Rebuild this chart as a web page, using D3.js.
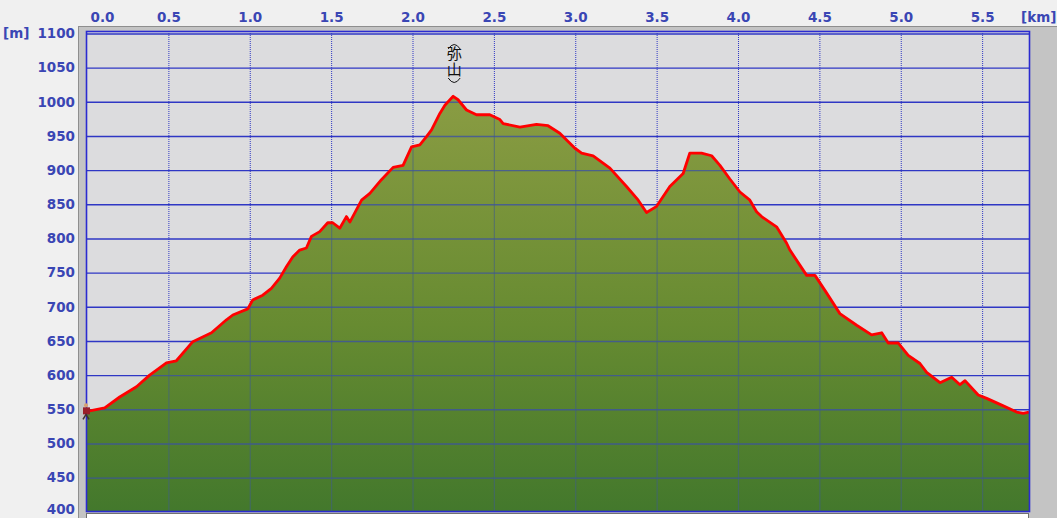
<!DOCTYPE html>
<html>
<head>
<meta charset="utf-8">
<script src="https://cdn.jsdelivr.net/npm/d3@7"></script>
<style>
  body { margin: 0; background: #f0f0f0; }
  svg { display: block; }
</style>
</head>
<body>
<div id="chart-area"></div>
<script>
// profile: distance [km] / elevation [m]
const distKm = [0, 0.109, 0.201, 0.304, 0.385, 0.488, 0.549, 0.650, 0.765, 0.857, 0.896, 0.988,
  1.018, 1.080, 1.133, 1.184, 1.226, 1.264, 1.307, 1.348, 1.379, 1.430, 1.479, 1.510, 1.553,
  1.594, 1.615, 1.687, 1.738, 1.809, 1.881, 1.942, 1.994, 2.045, 2.086, 2.117, 2.168, 2.199,
  2.250, 2.280, 2.332, 2.393, 2.475, 2.537, 2.557, 2.660, 2.762, 2.833, 2.905, 2.998, 3.039,
  3.110, 3.213, 3.315, 3.387, 3.438, 3.500, 3.581, 3.663, 3.704, 3.776, 3.838, 3.889, 3.950,
  4.012, 4.073, 4.114, 4.145, 4.237, 4.299, 4.319, 4.380, 4.422, 4.473, 4.545, 4.626, 4.729,
  4.821, 4.883, 4.923, 4.985, 5.046, 5.118, 5.159, 5.241, 5.313, 5.364, 5.395, 5.476, 5.528,
  5.630, 5.712, 5.753, 5.788];
const elevM = [547, 552, 568, 583, 600, 618, 621, 649, 662, 681, 688, 697,
  710, 717, 727, 742, 759, 773, 783, 786, 803, 810, 823, 823, 815,
  832, 824, 856, 866, 886, 904, 907, 934, 937, 949, 959, 983, 995,
  1008, 1003, 988, 981, 981, 974, 968, 963, 967, 965, 954, 932, 925,
  921, 903, 876, 856, 838, 847, 876, 895, 925, 925, 921, 907, 887,
  868, 856, 839, 832, 817, 793, 783, 761, 746, 746, 720, 690, 673,
  659, 662, 647, 647, 629, 617, 604, 589, 597, 586, 592, 571, 566,
  555, 546, 544, 546];

const xTicks = [0, 0.5, 1, 1.5, 2, 2.5, 3, 3.5, 4, 4.5, 5, 5.5];
const yTicks = [400, 450, 500, 550, 600, 650, 700, 750, 800, 850, 900, 950, 1000, 1050, 1100];
const peakName = "弥山";
const peakKm = 2.25;

const width = 1057, height = 518;
const plot = { left: 87, top: 32, right: 1029, bottom: 512 };
const labelColor = "#3a46b4";
const gridColor = "#2f37c4";

const x = d3.scaleLinear()
  .domain([0, 5.788])
  .range([plot.left, plot.right]);

const y = d3.scaleLinear()
  .domain([400, 1100])
  .range([511.8, 33.45]);

const svg = d3.select("#chart-area")
  .append("svg")
    .attr("width", width)
    .attr("height", height)
    .style("font-family", "'DejaVu Sans', Verdana, sans-serif");

const defs = svg.append("defs");

const grad = defs.append("linearGradient")
  .attr("id", "fillGrad")
  .attr("gradientUnits", "userSpaceOnUse")
  .attr("x1", 0).attr("x2", 0)
  .attr("y1", y(1010)).attr("y2", y(400));
grad.append("stop").attr("offset", 0).attr("stop-color", "#8a9c43");
grad.append("stop").attr("offset", 0.55).attr("stop-color", "#678b31");
grad.append("stop").attr("offset", 1).attr("stop-color", "#43782c");

const area = d3.area()
  .x((d, i) => x(distKm[i]))
  .y0(y(400))
  .y1(d => y(d));

const line = d3.line()
  .x((d, i) => x(distKm[i]))
  .y(d => y(d));

defs.append("clipPath")
  .attr("id", "plotClip")
  .append("rect")
  .attr("x", plot.left)
  .attr("y", plot.top)
  .attr("width", plot.right - plot.left)
  .attr("height", plot.bottom - plot.top);

defs.append("clipPath")
  .attr("id", "areaClip")
  .append("path")
  .attr("d", area(elevM));

// grey frame round the plot
svg.append("rect")
  .attr("x", 78).attr("y", 26)
  .attr("width", width - 78).attr("height", height - 26)
  .attr("fill", "#c4c4c4");
svg.append("line")
  .attr("x1", 78.5).attr("x2", 78.5).attr("y1", 26).attr("y2", height)
  .attr("stroke", "#8e8e8e");
svg.append("line")
  .attr("x1", 78).attr("x2", width).attr("y1", 26.5).attr("y2", 26.5)
  .attr("stroke", "#8e8e8e");

svg.append("rect")
  .attr("x", plot.left).attr("y", plot.top)
  .attr("width", plot.right - plot.left).attr("height", plot.bottom - plot.top)
  .attr("fill", "#dcdcde");

// grid on the empty part
const grid = svg.append("g").attr("clip-path", "url(#plotClip)");

grid.append("g")
  .attr("transform", "translate(" + plot.left + ",0)")
  .call(d3.axisLeft(y).tickValues(yTicks).tickSize(-(plot.right - plot.left)).tickFormat(""))
  .call(g => g.select(".domain").remove())
  .selectAll("line")
  .attr("stroke", gridColor)
  .attr("stroke-width", 1.4);

grid.append("g")
  .attr("transform", "translate(0," + plot.bottom + ")")
  .call(d3.axisBottom(x).tickValues(xTicks.slice(1)).tickSize(-(plot.bottom - plot.top)).tickFormat(""))
  .call(g => g.select(".domain").remove())
  .selectAll("line")
  .attr("stroke", gridColor)
  .attr("stroke-width", 1)
  .style("stroke-dasharray", ("1, 1"));

// profile fill
svg.append("path")
  .attr("clip-path", "url(#plotClip)")
  .attr("d", area(elevM))
  .attr("fill", "url(#fillGrad)");

// grid showing through the fill
const gridIn = svg.append("g").attr("clip-path", "url(#areaClip)");

gridIn.append("g")
  .attr("transform", "translate(" + plot.left + ",0)")
  .call(d3.axisLeft(y).tickValues(yTicks).tickSize(-(plot.right - plot.left)).tickFormat(""))
  .call(g => g.select(".domain").remove())
  .selectAll("line")
  .attr("stroke", "#3a4fa8")
  .attr("stroke-opacity", 0.75)
  .attr("stroke-width", 1.4);

gridIn.append("g")
  .attr("transform", "translate(0," + plot.bottom + ")")
  .call(d3.axisBottom(x).tickValues(xTicks.slice(1)).tickSize(-(plot.bottom - plot.top)).tickFormat(""))
  .call(g => g.select(".domain").remove())
  .selectAll("line")
  .attr("stroke", "#3f5d8a")
  .attr("stroke-opacity", 0.55)
  .attr("stroke-width", 1.2);

// profile line
svg.append("path")
  .attr("clip-path", "url(#plotClip)")
  .attr("d", line(elevM))
  .attr("fill", "none")
  .attr("stroke", "#ff0000")
  .attr("stroke-width", 2.8)
  .attr("stroke-linejoin", "round");

// blue border of the plot
svg.append("rect")
  .attr("x", plot.left - 0.5).attr("y", plot.top - 0.5)
  .attr("width", plot.right - plot.left + 1).attr("height", plot.bottom - plot.top)
  .attr("fill", "none")
  .attr("stroke", "#2b2bd0")
  .attr("stroke-width", 1.6);

// white strip at the bottom
svg.append("rect")
  .attr("x", plot.left - 0.5).attr("y", plot.bottom + 1.5)
  .attr("width", plot.right - plot.left).attr("height", 10)
  .attr("fill", "#ffffff")
  .attr("stroke", "#707070");

// start marker
const sx = x(distKm[0]), sy = y(elevM[0]);
svg.append("rect")
  .attr("x", sx - 4).attr("y", sy - 4)
  .attr("width", 7).attr("height", 7)
  .attr("fill", "#9a1f2a");
svg.append("circle")
  .attr("cx", sx - 1).attr("cy", sy - 6).attr("r", 2)
  .attr("fill", "#d8a070");
svg.append("path")
  .attr("d", "M" + (sx - 4) + "," + (sy + 8) + "L" + (sx - 1) + "," + (sy + 3) + "L" + (sx + 2) + "," + (sy + 8))
  .attr("fill", "none")
  .attr("stroke", "#403030")
  .attr("stroke-width", 1.5);

// peak name, written vertically in a bracket
const px = x(peakKm) + 1;
const peak = svg.append("g");
peak.append("text")
  .attr("x", px)
  .attr("y", 46)
  .style("writing-mode", "vertical-rl")
  .style("font-family", "'Noto Sans CJK JP', sans-serif")
  .attr("font-size", 15)
  .attr("letter-spacing", 1)
  .attr("fill", "#111")
  .text(peakName);
peak.append("path")
  .attr("d", "M" + (px - 6) + ",49 Q" + px + ",40 " + (px + 6) + ",49")
  .attr("fill", "none").attr("stroke", "#111").attr("stroke-width", 1);
peak.append("path")
  .attr("d", "M" + (px - 6) + ",78 Q" + px + ",87 " + (px + 6) + ",78")
  .attr("fill", "none").attr("stroke", "#111").attr("stroke-width", 1);

// axes labels
const yAxis = svg.append("g")
  .attr("transform", "translate(75,0)")
  .call(d3.axisLeft(y).tickValues(yTicks).tickSize(0).tickPadding(0).tickFormat(d3.format("d")))
  .call(g => g.select(".domain").remove());
yAxis.selectAll("text")
  .attr("fill", labelColor)
  .attr("font-size", 13.5)
  .attr("font-weight", "bold")
  .attr("font-family", "'DejaVu Sans', sans-serif")
  .attr("y", d => d === 400 ? -3 : 0);

const xAxis = svg.append("g")
  .attr("transform", "translate(0,22)")
  .call(d3.axisTop(x).tickValues(xTicks).tickSize(0).tickPadding(0).tickFormat(d3.format(".1f")))
  .call(g => g.select(".domain").remove());
xAxis.selectAll("text")
  .attr("fill", labelColor)
  .attr("font-size", 13.5)
  .attr("font-weight", "bold")
  .attr("font-family", "'DejaVu Sans', sans-serif")
  .attr("dx", d => d === 0 ? 15 : 0);

svg.append("text")
  .attr("x", 3).attr("y", 38)
  .attr("fill", labelColor)
  .attr("font-size", 13.5)
  .attr("font-weight", "bold")
  .text("[m]");

svg.append("text")
  .attr("x", 1021).attr("y", 22)
  .attr("fill", labelColor)
  .attr("font-size", 13.5)
  .attr("font-weight", "bold")
  .text("[km]");
</script>
</body>
</html>
